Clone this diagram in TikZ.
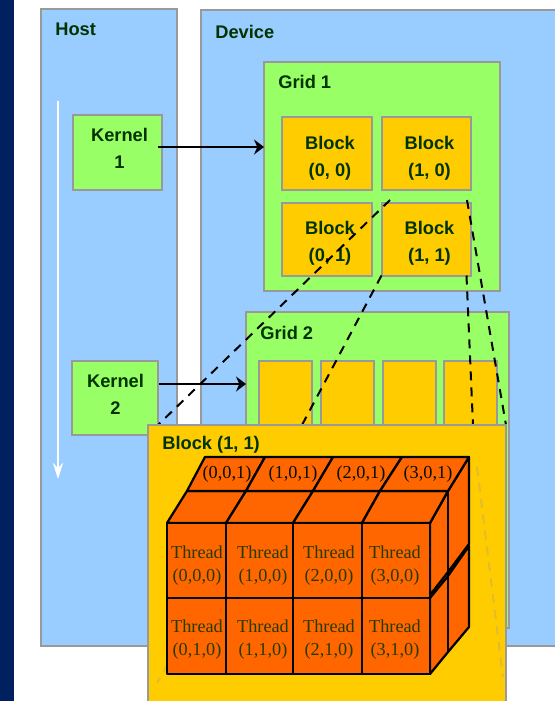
\documentclass[tikz,border=0pt]{standalone}
\usepackage{fontspec}
\setmainfont{Liberation Sans}
\newfontfamily\threadfont{Liberation Serif}
\usetikzlibrary{arrows.meta}
\definecolor{hostblue}{HTML}{99CCFF}
\definecolor{gridgreen}{HTML}{99FF66}
\definecolor{blockyellow}{HTML}{FFCC00}
\definecolor{threadorange}{HTML}{FF6600}
\definecolor{labelgreen}{HTML}{003300}
\definecolor{edgegray}{HTML}{999999}
\definecolor{stripnavy}{HTML}{002060}
\tikzset{
  box/.style={draw=edgegray,line width=0.04cm,inner sep=0pt,outer sep=0pt},
  hostbox/.style={box,fill=hostblue},
  greenbox/.style={box,fill=gridgreen},
  yellowbox/.style={box,fill=blockyellow},
  boxtext/.style={inner sep=0pt,align=center,text=labelgreen,font=\bfseries\fontsize{10.4}{15.5}\selectfont},
  title/.style={text=labelgreen,inner sep=0pt,anchor=west,font=\bfseries\fontsize{10.4}{13}\selectfont},
  feed/.style={line width=0.05cm,-{Stealth[length=0.2cm,width=0.3cm]}},
  zoomline/.style={line width=0.04cm,dash pattern=on 0.18cm off 0.14cm},
  faintline/.style={line width=0.04cm,dash pattern=on 0.18cm off 0.14cm,edgegray!30!blockyellow},
  cube/.style={draw=black,fill=threadorange,line width=0.045cm,line join=round},
  threadlabel/.style={inner sep=0pt,align=center,text=labelgreen!85!threadorange,font=\threadfont\fontsize{10.4}{13}\selectfont},
}
\begin{document}
\begin{tikzpicture}[x=0.02cm,y=-0.02cm]
  \useasboundingbox (0,0) rectangle (555,701);
  \clip (0,0) rectangle (555,701);
  \fill[stripnavy] (0,0) rectangle (14,701);
  \node[hostbox,minimum width=2.72cm,minimum height=12.74cm] (host) at (109,327.5) {};
  \node[hostbox,minimum width=7.98cm,minimum height=12.72cm] (device) at (400.5,328) {};
  \node[title] (hostlabel) at (55,29) {Host};
  \node[title] (devicelabel) at (215,32) {Device};
  \coordinate (timestart) at (58,101);
  \coordinate (timeend) at (58,479);
  \draw[white,line width=0.06cm,-{Stealth[length=0.32cm,width=0.2cm]}] (timestart) -- (timeend);

  \node[greenbox,minimum width=1.78cm,minimum height=1.5cm] (kernel1) at (117.5,152.5) {};
  \node[boxtext] (kernel1text) at (119.5,148.5) {Kernel\\1};
  \node[greenbox,minimum width=1.72cm,minimum height=1.48cm] (kernel2) at (115,398) {};
  \node[boxtext] (kernel2text) at (115.5,394.5) {Kernel\\2};
  \node[greenbox,minimum width=4.72cm,minimum height=4.58cm] (grid1) at (382,176.5) {};
  \node[title] (grid1label) at (278,82) {Grid 1};
  \foreach \i/\x in {0/327,1/426.5}{
    \foreach \j/\y in {0/153.5,1/239}{
      \node[yellowbox,minimum width=1.8cm,minimum height=1.46cm] (block\i\j) at (\x,\y) {};
      \node[boxtext] (block\i\j text) at ([shift={(3,4.5)}]block\i\j.center) {Block\\(\i, \j)};
    }
  }
  \node[greenbox,minimum width=5.26cm,minimum height=6.32cm] (grid2) at (377.5,470) {};
  \node[title] (grid2label) at (260,333) {Grid 2};
  \foreach \i/\x in {0/285.5,1/347.5,2/409.5,3/470.5}{
    \node[yellowbox,minimum width=1.06cm,minimum height=1.56cm] (slot\i) at (\x,400) {};
  }

  \coordinate (feedone) at (158,147);
  \coordinate (feedtwo) at (159,384);
  \draw[feed] (feedone) -- (feedone -| grid1.west);
  \draw[feed] (feedtwo) -- (feedtwo -| grid2.west);

  \coordinate (topleft) at (390,200);
  \coordinate (topright) at (467,200);
  \coordinate (zoomleft) at (158,425);
  \coordinate (zoommid) at (302,425);
  \coordinate (zoomthird) at (473,425);
  \coordinate (zoomright) at (506,425);
  \draw[zoomline] (topleft) -- (zoomleft);
  \draw[zoomline] (block11.south west) -- (zoommid);
  \draw[zoomline] (block11.south east) ++(-5,0) -- (zoomthird);
  \draw[zoomline] (topright) -- (zoomright);

  \node[yellowbox,minimum width=7.16cm,minimum height=5.9cm] (zoomblock) at (327,572.5) {};
  \node[title] (zoomlabel) at (162,445) {Block (1, 1)};
  \draw[faintline] (247,525) -- (157,683);
  \draw[faintline] (477,467) -- (503,677);

  \draw[cube] (430,598) -- (448,576) -- (469,546) -- (469,627) -- (448,652) -- (430,674) -- cycle;
  \draw[cube] (430,523) -- (448,491) -- (469,457) -- (469,544) -- (448,572) -- (430,595) -- cycle;
  \draw[black,line width=0.045cm] (448,491) -- (448,652);
  \foreach \xa/\xb/\xc/\xd/\xe/\xf in {167/187/205/226/246/265,226/246/265/293/313/333,293/313/333/362/380/402,362/380/402/430/448/469}{
    \draw[cube] (\xa,523) -- (\xb,491) -- (\xe,491) -- (\xd,523) -- cycle;
    \draw[cube] (\xb,491) -- (\xc,457) -- (\xf,457) -- (\xe,491) -- cycle;
  }
  \foreach \i/\xa/\xb/\x in {0/167/226/197,1/226/293/263,2/293/362/329,3/362/430/395}{
    \draw[cube] (\xa,523) rectangle (\xb,598);
    \draw[cube] (\xa,598) rectangle (\xb,674);
    \node[threadlabel] (thread\i0) at (\x,566) {Thread\\(\i,0,0)};
    \node[threadlabel] (thread\i1) at (\x,640) {Thread\\(\i,1,0)};
  }
  \foreach \i/\x in {0/227,1/293,2/361,3/428}{
    \node[threadlabel,text=black!70!labelgreen] (back\i) at (\x,474) {(\i,0,1)};
  }
\end{tikzpicture}
\end{document}
